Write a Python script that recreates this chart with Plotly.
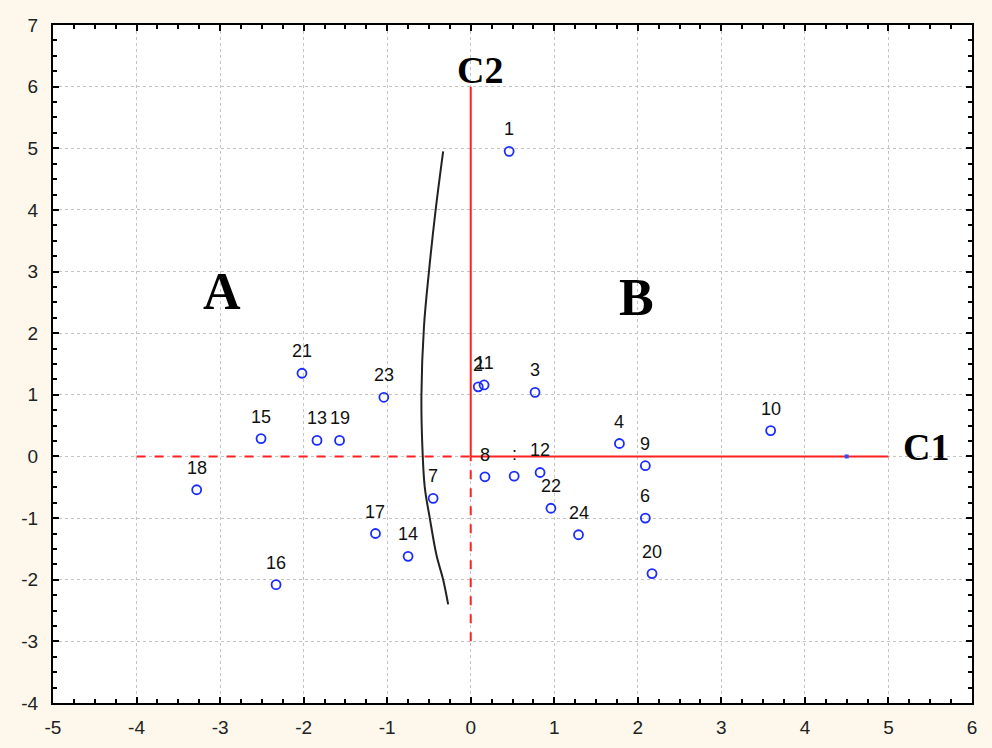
import plotly.graph_objects as go

# Data points (C1, C2)
labels = ["1", "2", "11", "3", "4", "9", "10", "6", "20", "24", "22", "12", ":", "8",
          "7", "14", "17", "16", "18", "15", "13", "19", "21", "23"]
c1 = [0.46, 0.09, 0.16, 0.77, 1.78, 2.09, 3.59, 2.09, 2.17, 1.29, 0.96, 0.83, 0.52, 0.17,
      -0.45, -0.75, -1.14, -2.33, -3.28, -2.51, -1.84, -1.57, -2.02, -1.04]
c2 = [4.95, 1.13, 1.16, 1.04, 0.21, -0.15, 0.42, -1.00, -1.90, -1.27, -0.84, -0.26, -0.32, -0.33,
      -0.68, -1.62, -1.25, -2.08, -0.54, 0.29, 0.26, 0.26, 1.35, 0.96]

# boundary curve separating groups A and B
curve_x = [-0.33, -0.42, -0.50, -0.56, -0.59, -0.58, -0.55, -0.49, -0.41, -0.33, -0.27]
curve_y = [4.95, 4.0, 3.0, 2.1, 1.0, 0.2, -0.5, -1.0, -1.6, -2.0, -2.4]

# axis lines
axis_h_neg_x = [-4, 0]
axis_h_pos_x = [0, 5]
axis_v_pos_y = [0, 6]
axis_v_neg_y = [-3, 0]

x_ticks = [-5, -4, -3, -2, -1, 0, 1, 2, 3, 4, 5, 6]
y_ticks = [-4, -3, -2, -1, 0, 1, 2, 3, 4, 5, 6, 7]

red = "#FF2020"
fig = go.Figure()

fig.add_trace(go.Scatter(x=axis_h_neg_x, y=[0, 0], mode="lines",
                         line=dict(color=red, width=2, dash="dash"), hoverinfo="skip"))
fig.add_trace(go.Scatter(x=axis_h_pos_x, y=[0, 0], mode="lines",
                         line=dict(color=red, width=2), hoverinfo="skip"))
fig.add_trace(go.Scatter(x=[0, 0], y=axis_v_pos_y, mode="lines",
                         line=dict(color=red, width=2), hoverinfo="skip"))
fig.add_trace(go.Scatter(x=[0, 0], y=axis_v_neg_y, mode="lines",
                         line=dict(color=red, width=2, dash="dash"), hoverinfo="skip"))
fig.add_trace(go.Scatter(x=curve_x, y=curve_y, mode="lines", line_shape="spline",
                         line=dict(color="#222222", width=2), hoverinfo="skip"))
fig.add_trace(go.Scatter(x=[4.5], y=[0], mode="markers",
                         marker=dict(color="#3050FF", size=4, symbol="square"), hoverinfo="skip"))

fig.add_trace(go.Scatter(
    x=c1, y=c2, mode="markers",
    marker=dict(symbol="circle-open", size=9, color="#1a2cff", line=dict(width=1.8, color="#1a2cff")),
))

for lab, x, y in zip(labels, c1, c2):
    fig.add_annotation(x=x, y=y, text=lab, showarrow=False, yshift=22,
                       font=dict(family="Liberation Sans, Arial", size=18, color="#111111"))

big_font = dict(family="Liberation Serif, Times New Roman", color="black")
for txt, x, y, size in [("C2", 0.11, 6.27, 38), ("C1", 5.45, 0.16, 38),
                        ("A", -2.98, 2.68, 52), ("B", 1.99, 2.58, 52)]:
    fig.add_annotation(x=x, y=y, text=f"<b>{txt}</b>", showarrow=False,
                       font=dict(size=size, **big_font))

axis_common = dict(
    showgrid=True, gridcolor="#C4C4C4", griddash="dot", gridwidth=1,
    zeroline=False, showline=True, linecolor="black", linewidth=2, mirror="allticks",
    ticks="inside", ticklen=6, tickwidth=2, tickcolor="black", automargin=False,
    minor=dict(ticks="inside", ticklen=4, tickwidth=2, tickcolor="black", dtick=0.25, showgrid=False),
    tickfont=dict(family="Liberation Sans, Arial", size=19, color="#222222"),
)

fig.update_xaxes(range=[-5, 6], tickvals=x_ticks, ticktext=[str(v) for v in x_ticks], ticklabelstandoff=6,
                 **axis_common)
fig.update_yaxes(range=[-4, 7], tickvals=y_ticks, ticktext=[str(v) for v in y_ticks], ticklabelstandoff=9,
                 **axis_common)

fig.update_layout(
    width=992, height=748, showlegend=False,
    paper_bgcolor="#FDF8EB", plot_bgcolor="white",
    margin=dict(l=53, r=20, t=25, b=45),
)

fig.write_html("out.html", config={"displayModeBar": False},
               post_script="document.body.style.margin='0';document.body.style.background='#FDF8EB';")
